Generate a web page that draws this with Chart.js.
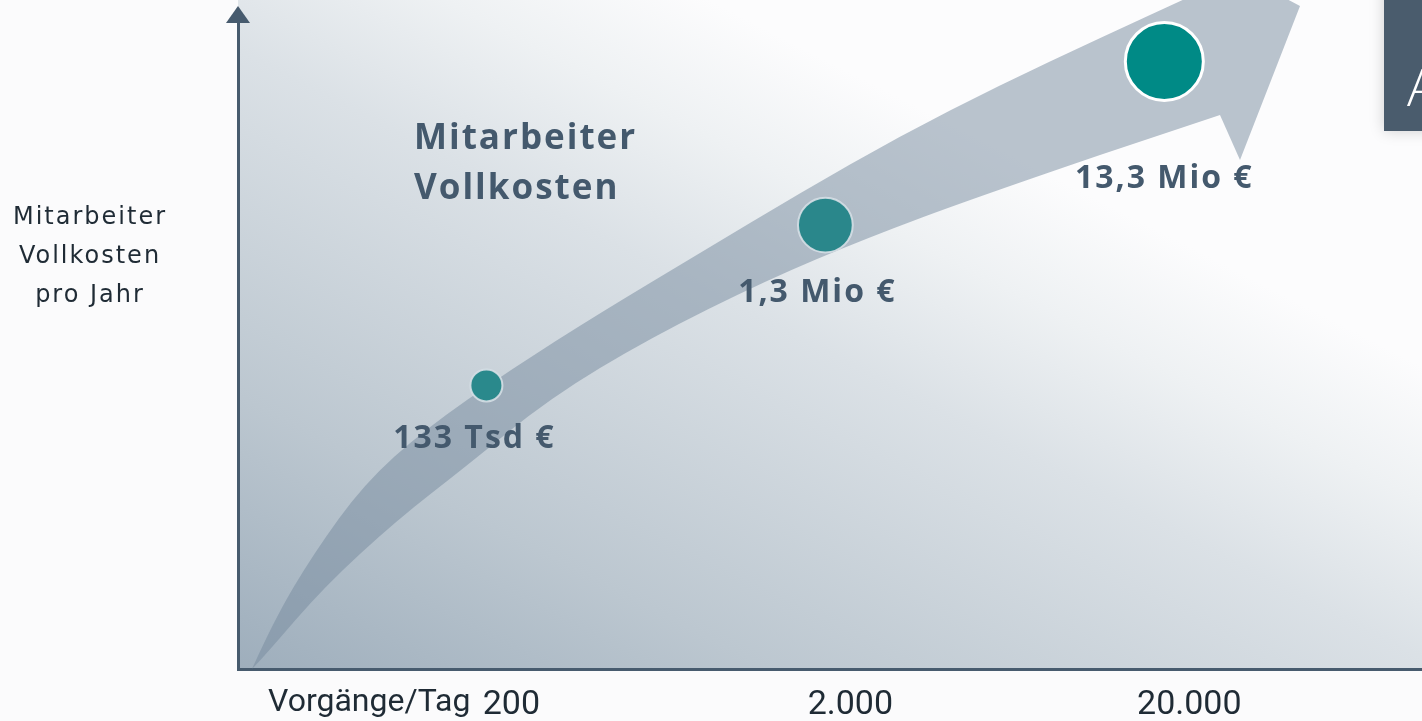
<!DOCTYPE html>
<html lang="de">
<head>
<meta charset="utf-8">
<title>Mitarbeiter Vollkosten</title>
<script src="https://cdn.jsdelivr.net/npm/chart.js@4.4.1/dist/chart.umd.min.js"></script>
<style>
    html, body { margin: 0; padding: 0; background: #fbfbfc; }
    #wrap { width: 1422px; height: 721px; position: relative; }
</style>
</head>
<body>
<div id="wrap"><canvas id="costChart"></canvas></div>
<script>
// Chart data
const volumes = [200, 2000, 20000];
const yearlyCosts = [133000, 1300000, 13300000];
const costLabels = ["133 Tsd €", "1,3 Mio €", "13,3 Mio €"];
const xTickValues = [200, 2000, 20000];
const xTickLabels = ["200", "2.000", "20.000"];
const xAxisTitle = "Vorgänge/Tag";
const yAxisTitle = ["Mitarbeiter", "Vollkosten", "pro Jahr"];
const chartTitle = ["Mitarbeiter", "Vollkosten"];
const sideBoxText = "A";

// Colors
const colors = {
    axis: "#475b6e",
    text: "#1f2b35",
    label: "#44596d",
    band: "rgba(118, 138, 157, 0.5)",
    bubbles: ["#2a898c", "#2a878b", "#008a86"],
    bubbleBorders: ["rgba(214, 223, 229, 0.9)", "rgba(214, 223, 229, 0.9)", "#ffffff"],
    box: "#4a5c6d",
};

// Arrow band outline, in a design frame equal to the chart area (238..1422 x 18..669)
const design = { left: 238, top: 18, width: 1184, height: 651 };
const bandUpper = [[252, 669], [274, 620], [314, 553], [364, 484], [424, 430], [510, 370], [600, 313], [700, 253], [800, 193], [900, 136], [1000, 85], [1100, 38], [1200, -8]];
const bandHead = [[1175, -60], [1300, 6], [1240, 160], [1220, 115]];
const bandLower = [[1100, 155], [977, 197], [867, 238], [767, 280], [650, 338], [550, 398], [464, 468], [397, 520], [324, 587], [267, 653], [252, 669]];

// Bubble size grows with the cost decade
function bubbleRadius(value) {
    return 16 + 11.5 * Math.log10(value / yearlyCosts[0]);
}

function smoothPath(ctx, pts, map, first) {
    const p = pts.map(map);
    if (first) ctx.moveTo(p[0][0], p[0][1]);
    else ctx.lineTo(p[0][0], p[0][1]);
    for (let i = 1; i < p.length - 1; i++) {
        const mx = (p[i][0] + p[i + 1][0]) / 2;
        const my = (p[i][1] + p[i + 1][1]) / 2;
        ctx.quadraticCurveTo(p[i][0], p[i][1], mx, my);
    }
    ctx.lineTo(p[p.length - 1][0], p[p.length - 1][1]);
}

// Keep the plot area fixed, no label overhang padding
function noPadding(scale) {
    scale.paddingLeft = 0;
    scale.paddingRight = 0;
    scale.paddingTop = 0;
    scale.paddingBottom = 0;
}

const slidePlugin = {
    id: "slide",
    beforeDraw(chart) {
        const { ctx, chartArea: a } = chart;
        ctx.save();
        // plot background gradient
        const g = ctx.createLinearGradient(a.left, a.bottom, a.left + 370, a.top - 70);
        g.addColorStop(0, "#9eaebc");
        g.addColorStop(0.3, "#bcc7d0");
        g.addColorStop(0.68, "#dbe1e6");
        g.addColorStop(0.85, "#eef1f3");
        g.addColorStop(1, "#fcfcfd");
        ctx.fillStyle = g;
        ctx.fillRect(a.left, 0, a.right - a.left, a.bottom);
        ctx.restore();
    },
    beforeDatasetsDraw(chart) {
        const { ctx, chartArea: a } = chart;
        const map = ([x, y]) => [
            a.left + ((x - design.left) / design.width) * (a.right - a.left),
            a.top + ((y - design.top) / design.height) * (a.bottom - a.top),
        ];
        ctx.save();
        ctx.beginPath();
        smoothPath(ctx, bandUpper, map, true);
        bandHead.map(map).forEach(([x, y]) => ctx.lineTo(x, y));
        smoothPath(ctx, bandLower, map, false);
        ctx.closePath();
        ctx.fillStyle = colors.band;
        ctx.fill();

        // title inside the plot
        ctx.fillStyle = colors.label;
        ctx.font = "bold 35px 'Open Sans'";
        ctx.letterSpacing = "2px";
        ctx.textAlign = "left";
        ctx.textBaseline = "middle";
        chartTitle.forEach((line, i) => ctx.fillText(line, 414, 139 + i * 50));
        ctx.restore();
    },
    afterDatasetsDraw(chart) {
        const { ctx, chartArea: a } = chart;
        const meta = chart.getDatasetMeta(0);
        const offsets = [[-12, 53], [-8, 68], [0, 117]];
        ctx.save();
        ctx.fillStyle = colors.label;
        ctx.font = "bold 32px 'Open Sans'";
        ctx.letterSpacing = "2px";
        ctx.textAlign = "center";
        ctx.textBaseline = "middle";
        meta.data.forEach((pt, i) => {
            ctx.fillText(costLabels[i], pt.x + offsets[i][0], pt.y + offsets[i][1]);
        });

        // y axis arrow head
        ctx.fillStyle = colors.axis;
        ctx.beginPath();
        ctx.moveTo(a.left, 6);
        ctx.lineTo(a.left + 12, 23);
        ctx.lineTo(a.left - 12, 23);
        ctx.closePath();
        ctx.fill();

        // axis titles
        ctx.fillStyle = colors.text;
        ctx.font = "24px 'DejaVu Sans'";
        ctx.letterSpacing = "2px";
        ctx.textAlign = "center";
        yAxisTitle.forEach((line, i) => ctx.fillText(line, 90, 218 + i * 39));
        ctx.font = "32px Roboto";
        ctx.letterSpacing = "0px";
        ctx.textAlign = "left";
        ctx.fillText(xAxisTitle, 268, 703);

        // dark box on the right edge
        ctx.shadowColor = "rgba(0, 0, 0, 0.18)";
        ctx.shadowBlur = 14;
        ctx.fillStyle = colors.box;
        ctx.fillRect(1384, -20, 60, 151);
        ctx.shadowBlur = 0;
        ctx.fillStyle = "#ffffff";
        ctx.font = "300 52px 'Open Sans'";
        ctx.textBaseline = "alphabetic";
        ctx.fillText(sideBoxText, 1407, 106);
        ctx.restore();
    },
};

new Chart(document.getElementById("costChart"), {
    type: "bubble",
    data: {
        datasets: [
            {
                label: "Mitarbeiter Vollkosten pro Jahr",
                data: volumes.map((v, i) => ({ x: v, y: yearlyCosts[i], r: bubbleRadius(yearlyCosts[i]) })),
                backgroundColor: colors.bubbles,
                borderColor: colors.bubbleBorders,
                borderWidth: [2, 2, 3],
                clip: false,
            },
        ],
    },
    options: {
        responsive: true,
        maintainAspectRatio: false,
        animation: false,
        layout: { autoPadding: false, padding: { left: 238, top: 18, right: 0, bottom: 0 } },
        plugins: {
            legend: { display: false },
            tooltip: { enabled: false },
        },
        scales: {
            x: {
                type: "logarithmic",
                min: 37,
                max: 115140,
                grid: { display: false, drawTicks: false },
                border: { display: true, color: colors.axis, width: 3 },
                afterBuildTicks: (scale) => {
                    scale.ticks = xTickValues.map((v) => ({ value: v }));
                },
                afterFit: (scale) => {
                    scale.height = 52;
                    noPadding(scale);
                },
                ticks: {
                    autoSkip: false,
                    maxRotation: 0,
                    padding: 16,
                    labelOffset: 25,
                    color: colors.text,
                    font: { family: "Roboto", size: 34 },
                    callback: (value, index) => xTickLabels[index],
                },
            },
            y: {
                type: "logarithmic",
                min: 2363,
                max: 24660000,
                grid: { display: false, drawTicks: false },
                border: { display: true, color: colors.axis, width: 3 },
                ticks: { display: false },
                afterFit: (scale) => {
                    scale.width = 0;
                    noPadding(scale);
                },
            },
        },
    },
    plugins: [slidePlugin],
});
</script>
</body>
</html>
